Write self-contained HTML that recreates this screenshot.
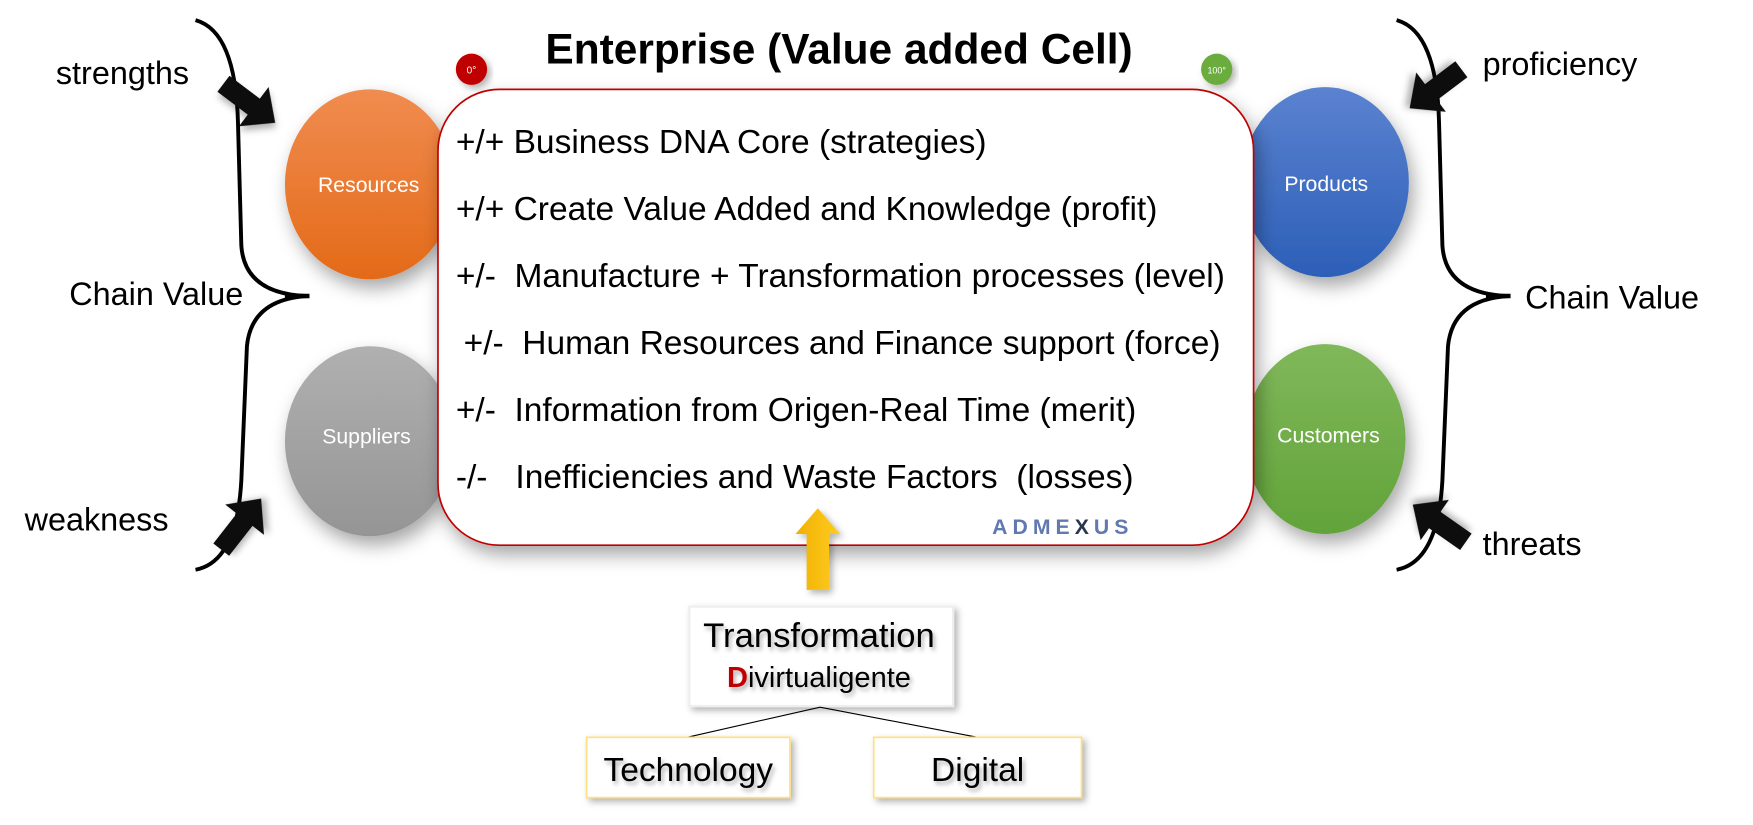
<!DOCTYPE html>
<html><head><meta charset="utf-8"><style>
html,body{margin:0;padding:0;background:#fff;}
svg{display:block;}
text{font-family:"Liberation Sans",sans-serif;white-space:pre;}
</style></head><body>
<svg width="1753" height="825" viewBox="0 0 1569 738.5" preserveAspectRatio="none" xmlns="http://www.w3.org/2000/svg" xml:space="preserve">
<defs>
<linearGradient id="gO" x1="0" y1="0" x2="0" y2="1"><stop offset="0" stop-color="#f08c50"/><stop offset="1" stop-color="#e46a18"/></linearGradient>
<linearGradient id="gG" x1="0" y1="0" x2="0" y2="1"><stop offset="0" stop-color="#b0b0b0"/><stop offset="1" stop-color="#959595"/></linearGradient>
<linearGradient id="gB" x1="0" y1="0" x2="0" y2="1"><stop offset="0" stop-color="#5b82d0"/><stop offset="1" stop-color="#2c5fb8"/></linearGradient>
<linearGradient id="gGr" x1="0" y1="0" x2="0" y2="1"><stop offset="0" stop-color="#80b85a"/><stop offset="1" stop-color="#62a33a"/></linearGradient>
<linearGradient id="gY" x1="0" y1="0" x2="1" y2="0"><stop offset="0" stop-color="#f0b000"/><stop offset="1" stop-color="#ffcc20"/></linearGradient>
<filter id="sh" x="-20%" y="-20%" width="140%" height="140%"><feDropShadow dx="4" dy="8" stdDeviation="8" flood-color="#000" flood-opacity="0.35"/></filter>
<filter id="sh2" x="-20%" y="-20%" width="140%" height="140%"><feDropShadow dx="3" dy="3" stdDeviation="3" flood-color="#000" flood-opacity="0.3"/></filter>
<filter id="ts" x="-10%" y="-10%" width="120%" height="130%"><feDropShadow dx="2" dy="3" stdDeviation="2" flood-color="#000" flood-opacity="0.3"/></filter>
<path id="arr" d="M0,-9 L34,-9 L34,-22 L58,0 L34,22 L34,9 L0,9 Z"/>
<path id="brace" d="M175,18 Q211,28 213,110 L216,220 Q219,263 275,265 M275,265 Q225,268 221,310 L216,430 Q212,503 175,510" fill="none" stroke="#000" stroke-width="3.5"/>
</defs>

<use href="#brace"/>
<use href="#brace" transform="translate(1075,0)"/>
<line x1="255" y1="265" x2="277" y2="265" stroke="#000" stroke-width="4"/>
<line x1="1330" y1="265" x2="1352" y2="265" stroke="#000" stroke-width="4"/>

<use href="#arr" transform="translate(200,75) rotate(37)" fill="#111" filter="url(#sh2)"/>
<use href="#arr" transform="translate(198,492) rotate(-52)" fill="#111" filter="url(#sh2)"/>
<use href="#arr" transform="translate(1308,62) rotate(143)" fill="#111" filter="url(#sh2)"/>
<use href="#arr" transform="translate(1312,485) rotate(215)" fill="#111" filter="url(#sh2)"/>

<text x="50" y="75" font-size="29">strengths</text>
<text x="62" y="273" font-size="29">Chain Value</text>
<text x="22" y="475" font-size="29">weakness</text>
<text x="1327" y="67" font-size="29">proficiency</text>
<text x="1365" y="276" font-size="29">Chain Value</text>
<text x="1327" y="497" font-size="29">threats</text>

<ellipse cx="331" cy="165" rx="76" ry="85" fill="url(#gO)" filter="url(#sh)"/>
<ellipse cx="331" cy="395" rx="76" ry="85" fill="url(#gG)" filter="url(#sh)"/>
<ellipse cx="1186" cy="163" rx="75" ry="85" fill="url(#gB)" filter="url(#sh)"/>
<ellipse cx="1186" cy="393" rx="72" ry="85" fill="url(#gGr)" filter="url(#sh)"/>
<text x="330" y="172" font-size="19" fill="#fff" text-anchor="middle">Resources</text>
<text x="328" y="397" font-size="19" fill="#fff" text-anchor="middle">Suppliers</text>
<text x="1187" y="171" font-size="19" fill="#fff" text-anchor="middle">Products</text>
<text x="1189" y="396" font-size="19" fill="#fff" text-anchor="middle">Customers</text>

<text x="751" y="57" font-size="38" font-weight="bold" text-anchor="middle">Enterprise (Value added Cell)</text>
<circle cx="422" cy="62" r="14" fill="#c00000" filter="url(#sh2)"/>
<text x="422" y="66" font-size="9" fill="#fff" text-anchor="middle">0°</text>
<circle cx="1089" cy="62" r="14" fill="#6aac3c" filter="url(#sh2)"/>
<text x="1089" y="66" font-size="8" fill="#fff" text-anchor="middle">100°</text>

<rect x="392" y="80" width="730" height="408" rx="55" ry="55" fill="#fff" stroke="#c00000" stroke-width="1.5" filter="url(#sh)"/>
<g font-size="30" fill="#000">
<text x="408" y="137">+/+ Business DNA Core (strategies)</text>
<text x="408" y="197">+/+ Create Value Added and Knowledge (profit)</text>
<text x="408" y="257">+/-  Manufacture + Transformation processes (level)</text>
<text x="415" y="317">+/-  Human Resources and Finance support (force)</text>
<text x="408" y="377">+/-  Information from Origen-Real Time (merit)</text>
<text x="408" y="437">-/-   Inefficiencies and Waste Factors  (losses)</text>
</g>
<text x="888" y="478" font-size="19" font-weight="bold" fill="#6079b0" letter-spacing="4.5">ADME<tspan fill="#2a3550">X</tspan>US</text>

<path d="M722,528 L722,478 L712,478 L732,455 L752,478 L742,478 L742,528 Z" fill="url(#gY)" filter="url(#sh2)"/>

<rect x="617" y="543" width="236" height="89" fill="#fff" stroke="#eee" stroke-width="2" filter="url(#sh2)"/>
<text x="733" y="579" font-size="31" text-anchor="middle" filter="url(#ts)">Transformation</text>
<text x="733" y="615" font-size="26" text-anchor="middle" filter="url(#ts)"><tspan fill="#c00000" font-weight="bold">D</tspan>ivirtualigente</text>
<line x1="734" y1="633" x2="615" y2="660" stroke="#000" stroke-width="1"/>
<line x1="734" y1="633" x2="875" y2="660" stroke="#000" stroke-width="1"/>
<rect x="525" y="660" width="182" height="54" fill="#fff" stroke="#ffe080" stroke-width="1.5" filter="url(#sh2)"/>
<rect x="782" y="660" width="186" height="54" fill="#fff" stroke="#ffe080" stroke-width="1.5" filter="url(#sh2)"/>
<text x="616" y="699" font-size="30" text-anchor="middle" filter="url(#ts)">Technology</text>
<text x="875" y="699" font-size="30" text-anchor="middle" filter="url(#ts)">Digital</text>
</svg>
</body></html>
